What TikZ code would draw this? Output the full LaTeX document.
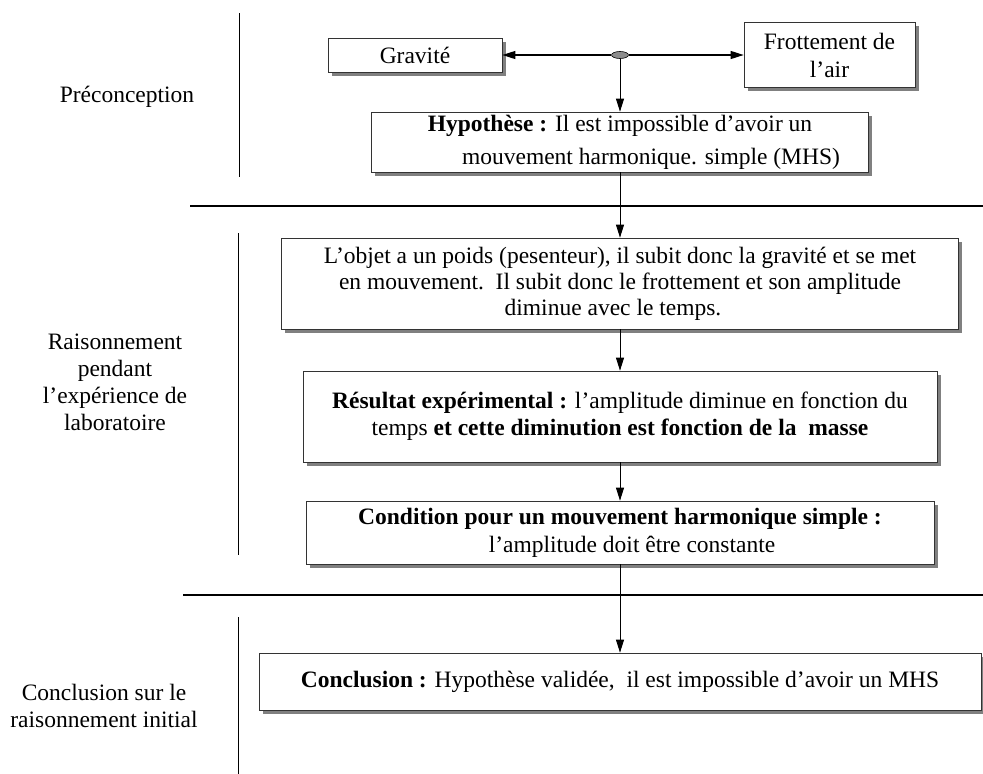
\documentclass[tikz,border=0pt]{standalone}
\usepackage{fontspec}
\setmainfont{Liberation Serif}
\usetikzlibrary{arrows.meta,shapes.geometric,shadows}

\begin{document}
\begin{tikzpicture}[x=1pt, y=-1pt, font=\fontsize{23.5}{27}\selectfont,
        box/.style = {draw=black!80, line width=0.7pt, fill=white, align=center, inner sep=0pt,
            drop shadow={shadow xshift=3.5pt, shadow yshift=-3.5pt, fill=black!50, opacity=1}},
        lbl/.style = {align=center, inner sep=0pt},
        arr/.style = {-{Triangle[length=13pt,width=8pt]}, line width=0.8pt},
        vsep/.style = {line width=1pt},
        hsep/.style = {line width=1.3pt}]
    \useasboundingbox (0,0) rectangle (983,774);

    % section lines
    \draw[vsep] (239,13) -- (239,177);
    \draw[vsep] (238,233) -- (238,555);
    \draw[vsep] (238,617) -- (238,774);
    \draw[hsep] (190,206) -- (983,206);
    \draw[hsep] (183,595) -- (983,595);

    % section labels
    \node[lbl] (n_pre) at (127,97) {Préconception};
    \node[lbl] (n_rais) at (115,382) {Raisonnement\\pendant\\l'expérience de\\laboratoire};
    \node[lbl] (n_fin) at (104,706) {Conclusion sur le\\raisonnement initial};

    % boxes
    \node[box, minimum width=174pt, minimum height=34pt] (n_grav) at (415,55) {Gravité};
    \node[box, minimum width=171pt, minimum height=65pt] (n_frot) at (829.5,55) {Frottement de\\[1pt]l'air};
    \node[draw, ellipse, fill=black!45, line width=0.6pt, minimum width=17pt, minimum height=7pt, inner sep=0pt] (n_junc) at (620,55) {};
    \node[box, minimum width=497pt, minimum height=60pt] (n_hyp) at (620,142)
        {\textbf{Hypothèse :} Il est impossible d'avoir un\\[6pt]\hspace*{62pt}mouvement harmonique. simple (MHS)};
    \node[box, minimum width=677pt, minimum height=91pt] (n_obj) at (620,283.5)
        {L'objet a un poids (pesenteur), il subit donc la gravité et se met\\[-1pt]
         en mouvement.\ \ Il subit donc le frottement et son amplitude\\[-1pt]
         diminue avec le temps.\hspace*{14pt}};
    \node[box, minimum width=634pt, minimum height=91pt] (n_res) at (620,416.5)
        {\textbf{Résultat expérimental :} l'amplitude diminue en fonction du\\
         temps \textbf{et cette diminution est fonction de la\ \ masse}};
    \node[box, minimum width=628pt, minimum height=63pt] (n_cond) at (620,532.5)
        {\textbf{Condition pour un mouvement harmonique simple :}\\[1pt]
         \hspace*{24pt}l'amplitude doit être constante};
    \node[box, minimum width=722pt, minimum height=57pt] (n_concl) at (620,681.5)
        {\textbf{Conclusion :} Hypothèse validée,\ \ il est impossible d'avoir un MHS};

    % connectors
    \draw[arr, line width=1.2pt] (n_junc) -- (n_grav);
    \draw[arr, line width=1.2pt] (n_junc) -- (n_frot);
    \draw[arr] (n_junc) -- (n_hyp);
    \draw[arr] (n_hyp) -- (n_obj);
    \draw[arr] (n_obj) -- (n_res);
    \draw[arr] (n_res) -- (n_cond);
    \draw[arr] (n_cond) -- (n_concl);
\end{tikzpicture}
\end{document}
